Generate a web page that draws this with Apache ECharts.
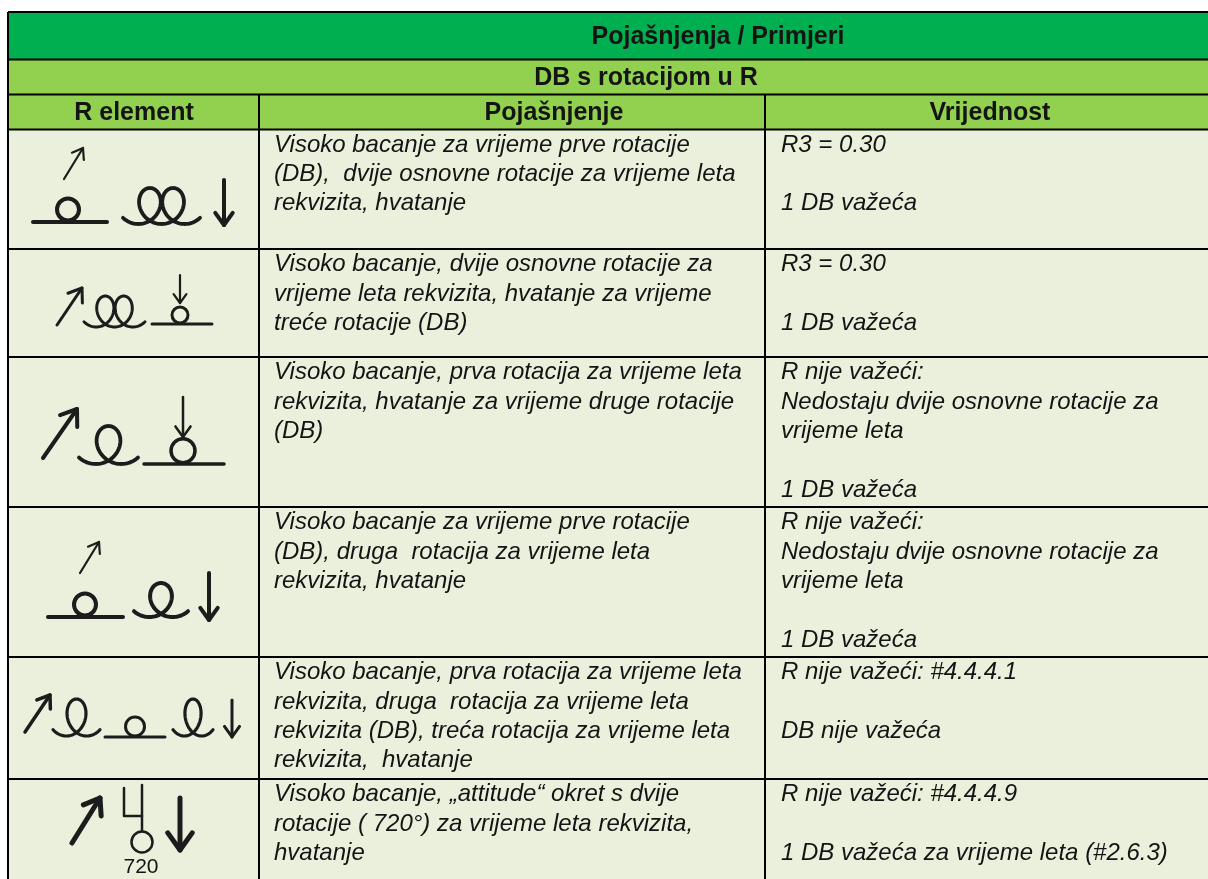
<!DOCTYPE html>
<html><head><meta charset="utf-8">
<script src="https://cdn.jsdelivr.net/npm/echarts@6/dist/echarts.min.js"></script>
<style>html,body{margin:0;padding:0;background:#fff}#c{width:1208px;height:879px}</style>
</head><body><div id="c"></div>
<script>
// ---- content ----
const title = 'Pojašnjenja / Primjeri';
const subtitle = 'DB s rotacijom u R';
const columnHeaders = ['R element', 'Pojašnjenje', 'Vrijednost'];
const explanations = [
  'Visoko bacanje za vrijeme prve rotacije\n(DB),  dvije osnovne rotacije za vrijeme leta\nrekvizita, hvatanje',
  'Visoko bacanje, dvije osnovne rotacije za\nvrijeme leta rekvizita, hvatanje za vrijeme\ntreće rotacije (DB)',
  'Visoko bacanje, prva rotacija za vrijeme leta\nrekvizita, hvatanje za vrijeme druge rotacije\n(DB)',
  'Visoko bacanje za vrijeme prve rotacije\n(DB), druga  rotacija za vrijeme leta\nrekvizita, hvatanje',
  'Visoko bacanje, prva rotacija za vrijeme leta\nrekvizita, druga  rotacija za vrijeme leta\nrekvizita (DB), treća rotacija za vrijeme leta\nrekvizita,  hvatanje',
  'Visoko bacanje, „attitude“ okret s dvije\nrotacije ( 720°) za vrijeme leta rekvizita,\nhvatanje'
];
const values = [
  'R3 = 0.30\n\n1 DB važeća',
  'R3 = 0.30\n\n1 DB važeća',
  'R nije važeći:\nNedostaju dvije osnovne rotacije za\nvrijeme leta\n\n1 DB važeća',
  'R nije važeći:\nNedostaju dvije osnovne rotacije za\nvrijeme leta\n\n1 DB važeća',
  'R nije važeći: #4.4.4.1\n\nDB nije važeća',
  'R nije važeći: #4.4.4.9\n\n1 DB važeća za vrijeme leta (#2.6.3)'
];
const rotationLabel = '720';

// ---- layout ----
const L = {
  x0: 8, x1: 259, x2: 765, x3: 1240,
  bands: [12, 59.5, 94.5, 129.5],
  rows: [129.5, 249, 357, 507, 657, 779, 910],
  dark: '#00AF50', light: '#92D050', body: '#EAF0DC',
  ink: '#1c1c1c', text: '#141414'
};
const FONT = '"Liberation Sans", Arial, sans-serif';

const els = [];
function rect(x, y, w, h, fill) { els.push({type: 'rect', silent: true, shape: {x, y, width: w, height: h}, style: {fill}}); }
function rule(x1, y1, x2, y2) { els.push({type: 'line', silent: true, shape: {x1, y1, x2, y2}, style: {stroke: '#000', lineWidth: 2}}); }
function line(x1, y1, x2, y2, w) { els.push({type: 'line', silent: true, shape: {x1, y1, x2, y2}, style: {stroke: L.ink, lineWidth: w, lineCap: 'round'}}); }
function poly(points, w) { els.push({type: 'polyline', silent: true, shape: {points}, style: {stroke: L.ink, lineWidth: w, fill: 'none', lineCap: 'round', lineJoin: 'round'}}); }
function circle(cx, cy, r, w) { els.push({type: 'circle', silent: true, shape: {cx, cy, r}, style: {stroke: L.ink, lineWidth: w, fill: 'none'}}); }
function arrow(x1, y1, x2, y2, w, head) {
  line(x1, y1, x2, y2, w);
  const a = Math.atan2(y1 - y2, x1 - x2), s = 0.62;
  poly([[x2 + head * Math.cos(a + s), y2 + head * Math.sin(a + s)], [x2, y2], [x2 + head * Math.cos(a - s), y2 + head * Math.sin(a - s)]], w);
}
// cursive rotation loops (glyph shape)
function loops(x0, x1, yT, yB, n, w) {
  const c = (yB - yT) / 2, yc = (yT + yB) / 2, e = 0.85, k = 4.4;
  const t0 = -Math.PI - e, t1 = 2 * Math.PI * (n - 1) + Math.PI + e;
  const a = (x1 - x0) / ((t1 - t0) - k * (Math.sin(t1) - Math.sin(t0)));
  const b = k * a;
  const pts = [];
  const steps = 80 * n + 40;
  for (let i = 0; i <= steps; i++) {
    const t = t0 + (t1 - t0) * i / steps;
    pts.push([x0 + a * (t - t0) - b * (Math.sin(t) - Math.sin(t0)), yc - c * Math.cos(t)]);
  }
  poly(pts, w);
}
function rotOnLine(xa, xb, yLine, cx, r, w) { line(xa, yLine, xb, yLine, w); circle(cx, yLine - r - w / 2 + 0.5, r, w); }
function text(str, x, y, font, align, vAlign, lh) {
  const st = {text: str, x, y, font, fill: L.text, align, verticalAlign: vAlign, textAlign: align, textVerticalAlign: vAlign};
  if (lh) st.lineHeight = lh;
  els.push({type: 'text', silent: true, style: st});
}

// backgrounds
const W = L.x3 - L.x0;
rect(L.x0, L.bands[0], W, L.bands[1] - L.bands[0], L.dark);
rect(L.x0, L.bands[1], W, L.bands[3] - L.bands[1], L.light);
rect(L.x0, L.rows[0], W, L.rows[L.rows.length - 1] - L.rows[0], L.body);

// symbols (R element column)
const symbolDrawers = [
  function () { arrow(64, 179, 83, 148, 2.2, 12); rotOnLine(33, 107, 222, 68, 11, 4); loops(123, 200, 188, 224, 2, 3.8); arrow(224, 180, 224, 225, 4, 15); },
  function () { arrow(57, 325, 82, 288, 3, 15); loops(84, 145, 296, 327, 2, 3); rotOnLine(152, 212, 324, 180, 8, 3); arrow(180, 275, 180, 303, 2.2, 11); },
  function () { arrow(43, 458, 77, 409, 4, 18); loops(79, 138, 426, 464, 1, 3.8); rotOnLine(144, 224, 464, 183, 12, 3.5); arrow(183, 397, 183, 437, 2.5, 13); },
  function () { arrow(80, 573, 99, 542, 2.2, 12); rotOnLine(48, 123, 617, 85, 11, 4); loops(134, 188, 583, 617, 1, 4); arrow(209, 573, 209, 620, 4, 15); },
  function () { arrow(25, 732, 50, 695, 3.5, 14); loops(53, 100, 699, 736, 1, 3.2); rotOnLine(105, 165, 737, 135, 9.5, 3); loops(173, 213, 699, 736, 1, 3.2); arrow(232, 700, 232, 737, 3, 13); },
  function () {
    arrow(72, 843, 100, 798, 5, 18);
    poly([[124, 788], [124, 816], [142, 816]], 2.5); line(142, 785, 142, 831, 2.5); circle(142, 842, 10.5, 2.5);
    text(rotationLabel, 141, 867, '21px ' + FONT, 'center', 'middle');
    arrow(180, 798, 180, 850, 5, 21);
  }
];
symbolDrawers.forEach(f => f());

// header texts
const HB = 'bold 25px ' + FONT;
text(title, 718, (L.bands[0] + L.bands[1]) / 2 + 1, HB, 'center', 'middle');
text(subtitle, 646, (L.bands[1] + L.bands[2]) / 2 + 1, HB, 'center', 'middle');
const hdrY = (L.bands[2] + L.bands[3]) / 2 + 1;
const hdrX = [134, 554, 990];
columnHeaders.forEach((h, i) => text(h, hdrX[i], hdrY, HB, 'center', 'middle'));

// body texts
const BI = 'italic 24px ' + FONT;
explanations.forEach((s, i) => text(s, 274, L.rows[i] + 1, BI, 'left', 'top', 29.3));
values.forEach((s, i) => text(s, 781, L.rows[i] + 1, BI, 'left', 'top', 29.3));

// grid rules
L.bands.forEach(y => rule(L.x0, y, L.x3, y));
L.rows.slice(1, -1).forEach(y => rule(L.x0, y, L.x3, y));
rule(L.x0, L.bands[0], L.x0, 900);
rule(L.x1, L.bands[2], L.x1, 900);
rule(L.x2, L.bands[2], L.x2, 900);

const chart = echarts.init(document.getElementById('c'));
chart.setOption({backgroundColor: '#ffffff', animation: false, graphic: {elements: els}});
</script>
</body></html>
